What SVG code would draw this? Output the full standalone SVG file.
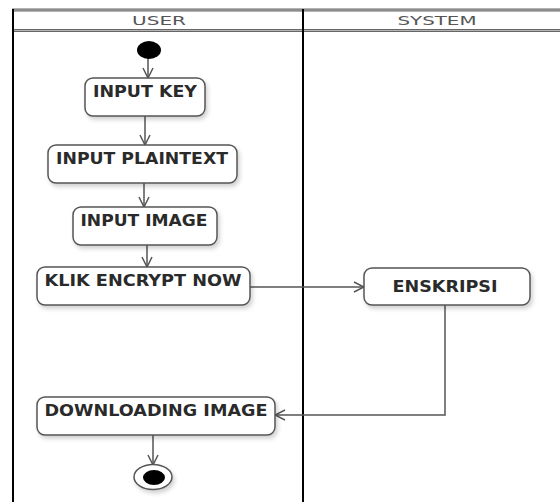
<svg xmlns="http://www.w3.org/2000/svg" width="560" height="502" viewBox="0 0 560 502">
<defs>
<style>
.node rect.box{fill:#fff;stroke:#555;stroke-width:1.5;filter:url(#sh)}
.lbl{font-family:"DejaVu Sans","Liberation Sans",sans-serif;font-weight:bold;font-size:15px;fill:#2a2a2a;text-anchor:middle}
.hdr{font-family:"DejaVu Sans","Liberation Sans",sans-serif;font-size:12px;fill:#555;text-anchor:middle}
.edge{fill:none;stroke:#555;stroke-width:1.5;marker-end:url(#arr)}
.hline{stroke:#666;stroke-width:3}
.hline2{stroke:#c8c8c8;stroke-width:0.8}
.lane{stroke:#000;stroke-width:2}
</style>
<filter id="sh" x="-10%" y="-20%" width="130%" height="160%">
<feDropShadow dx="2" dy="3" stdDeviation="2" flood-color="#000" flood-opacity="0.18"/>
</filter>
<marker id="arr" viewBox="0 0 12 12" refX="11" refY="6" markerWidth="12" markerHeight="12" markerUnits="userSpaceOnUse" orient="auto">
<path d="M1,1 L11,6 L1,11" fill="none" stroke="#555" stroke-width="1.5"/>
</marker>
</defs>
<rect width="560" height="502" fill="#fff"/>
<g id="swimlanes">
<line class="hline" x1="12" y1="10" x2="560" y2="10"/>
<line class="hline2" x1="12" y1="10" x2="560" y2="10"/>
<line class="hline" x1="12" y1="30.5" x2="560" y2="30.5"/>
<line class="hline2" x1="12" y1="30.5" x2="560" y2="30.5"/>
<line class="lane" x1="13" y1="9" x2="13" y2="502"/>
<line class="lane" x1="303" y1="9" x2="303" y2="502"/>
<text class="hdr" x="159" y="25" textLength="54" lengthAdjust="spacingAndGlyphs">USER</text>
<text class="hdr" x="437" y="25" textLength="79" lengthAdjust="spacingAndGlyphs">SYSTEM</text>
</g>
<g id="connectors">
<line class="edge" x1="148" y1="58" x2="148" y2="78"/>
<line class="edge" x1="145" y1="116" x2="145" y2="145"/>
<line class="edge" x1="144" y1="183" x2="144" y2="207"/>
<line class="edge" x1="147" y1="245" x2="147" y2="267"/>
<line class="edge" x1="250" y1="287" x2="364" y2="287"/>
<polyline class="edge" points="445,305 445,415 275,415"/>
<line class="edge" x1="153" y1="435" x2="153" y2="465"/>
</g>
<g id="start">
<ellipse cx="149" cy="50" rx="12" ry="9" fill="#000"/>
</g>
<g id="input-key" class="node">
<rect class="box" x="85" y="78" width="120" height="38" rx="8"/>
<text class="lbl" x="145" y="96.5" textLength="104" lengthAdjust="spacingAndGlyphs">INPUT KEY</text>
</g>
<g id="input-plaintext" class="node">
<rect class="box" x="48" y="145" width="189" height="38" rx="8"/>
<text class="lbl" x="142" y="163.5" textLength="172" lengthAdjust="spacingAndGlyphs">INPUT PLAINTEXT</text>
</g>
<g id="input-image" class="node">
<rect class="box" x="73" y="207" width="144" height="38" rx="8"/>
<text class="lbl" x="144" y="225.5" textLength="127" lengthAdjust="spacingAndGlyphs">INPUT IMAGE</text>
</g>
<g id="klik-encrypt" class="node">
<rect class="box" x="37" y="267" width="213" height="38" rx="8"/>
<text class="lbl" x="143" y="285.5" textLength="197" lengthAdjust="spacingAndGlyphs">KLIK ENCRYPT NOW</text>
</g>
<g id="enskripsi" class="node">
<rect class="box" x="364" y="268" width="166" height="37" rx="8"/>
<text class="lbl" x="445" y="292" textLength="105" lengthAdjust="spacingAndGlyphs">ENSKRIPSI</text>
</g>
<g id="downloading-image" class="node">
<rect class="box" x="37" y="397" width="238" height="38" rx="8"/>
<text class="lbl" x="156" y="415.5" textLength="223" lengthAdjust="spacingAndGlyphs">DOWNLOADING IMAGE</text>
</g>
<g id="end">
<ellipse cx="153" cy="477" rx="19" ry="12.5" fill="#fff" stroke="#555" stroke-width="1.5" filter="url(#sh)"/>
<ellipse cx="154" cy="477.5" rx="11" ry="7.5" fill="#000"/>
</g>
</svg>
